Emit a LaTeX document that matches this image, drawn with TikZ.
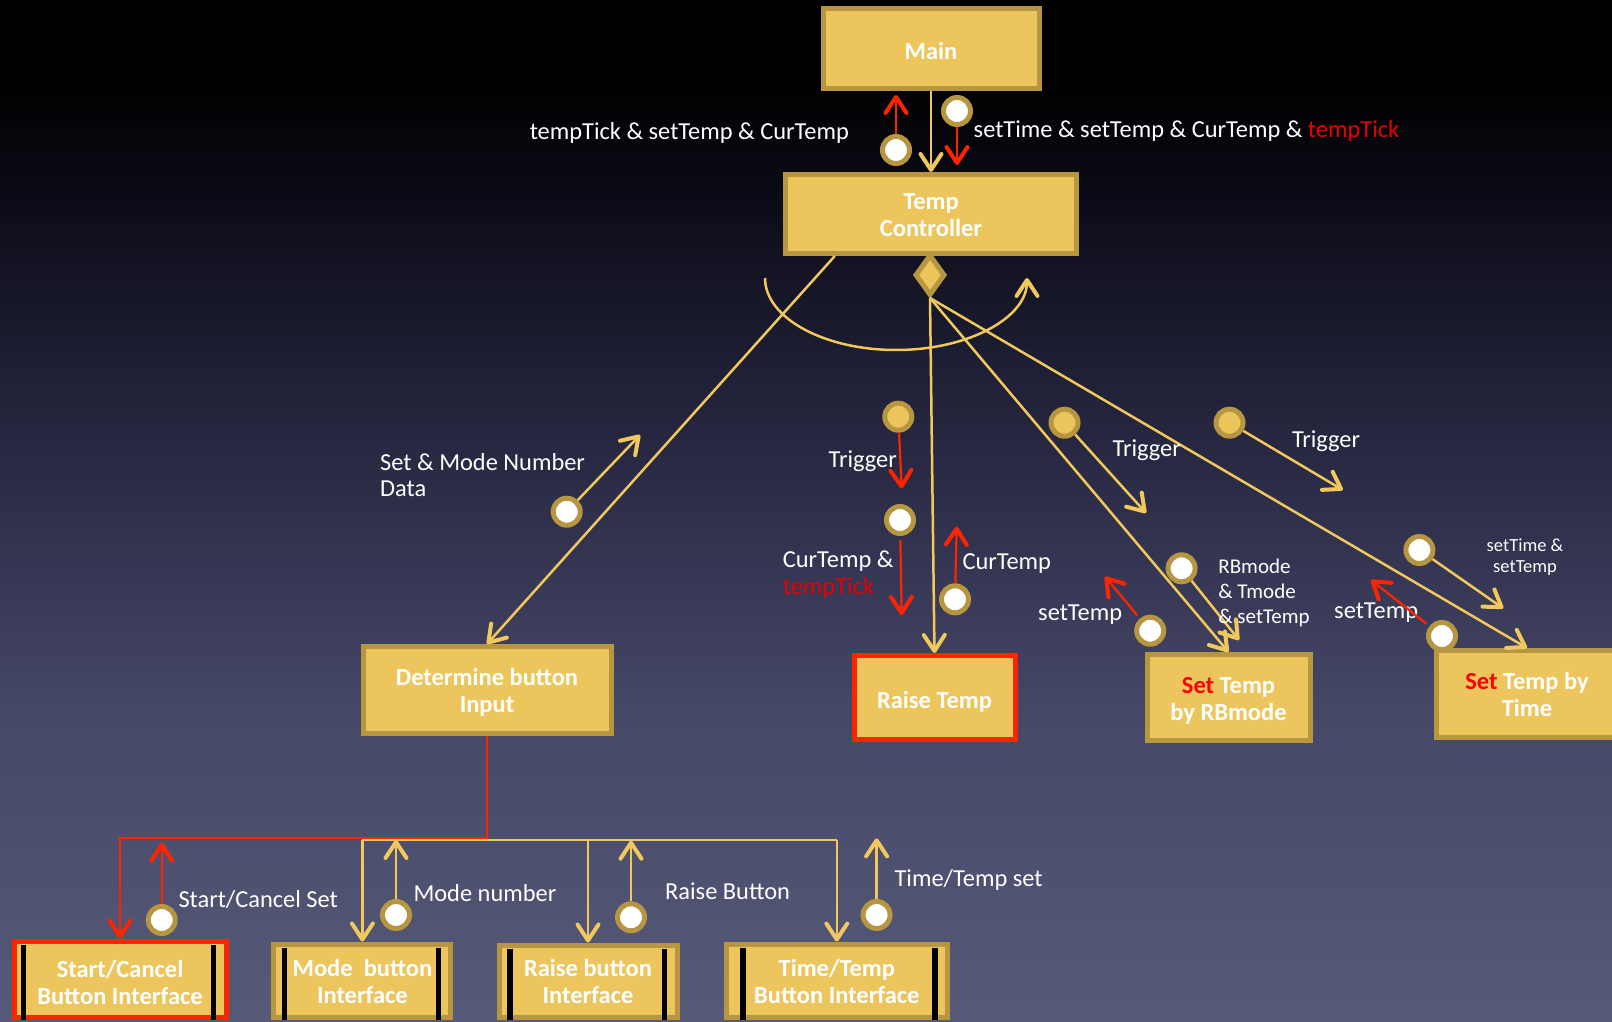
\documentclass[tikz,border=0pt]{standalone}
\usepackage{fontspec}
\setmainfont{Carlito}
\usetikzlibrary{arrows.meta,shapes.geometric,calc}

\definecolor{boxfill}{RGB}{236,198,92}
\definecolor{boxedge}{RGB}{183,150,66}
\definecolor{flow}{RGB}{240,200,92}
\definecolor{alert}{RGB}{255,36,0}
\definecolor{alerttext}{RGB}{232,0,0}
\definecolor{setred}{RGB}{255,0,0}
\definecolor{bgbot}{RGB}{86,89,120}
\definecolor{bglow}{RGB}{70,72,104}
\definecolor{bgmid}{RGB}{35,35,60}
\definecolor{bghigh}{RGB}{12,12,25}

\pgfdeclareverticalshading{backdrop}{100bp}{color(0bp)=(bgbot); color(25bp)=(bgbot); color(40bp)=(bglow); color(55bp)=(bgmid); color(65bp)=(bghigh); color(71bp)=(black); color(100bp)=(black)}

\tikzset{
  box/.style={rectangle, draw=boxedge, line width=5pt, fill=boxfill, text=white,
    font=\bfseries\fontsize{24.5}{27}\selectfont, align=center, inner sep=0pt},
  hotbox/.style={box, draw=alert},
  oneline/.style={text height=26pt, text depth=5pt},
  twoline/.style={text height=50pt, text depth=5pt},
  diam/.style={diamond, draw=boxedge, line width=5pt, fill=boxfill, inner sep=0pt,
    minimum width=30pt, minimum height=41pt},
  wdot/.style={circle, draw=boxedge, line width=5pt, fill=white, minimum size=27pt, inner sep=0pt},
  gdot/.style={wdot, fill=boxfill},
  lbl/.style={text=white, font=\fontsize{24.4}{26.6}\selectfont, inner sep=0pt, align=left},
  head/.style={-{Straight Barb[length=16pt,width=21pt,line width=4pt,round]}},
  yline/.style={draw=flow, line width=2.5pt},
  yarr/.style={yline, head},
  rarr/.style={draw=alert, line width=2.2pt, head},
  bar/.style={draw=black, line width=5.5pt},
}

\begin{document}
\begin{tikzpicture}[x=1pt,y=-1pt]
\useasboundingbox (0,0) rectangle (1612,1022);
\clip (0,0) rectangle (1612,1022);
\shade[shading=backdrop] (0,0) rectangle (1612,1022);

% process boxes
\node[box, oneline, minimum width=216pt, minimum height=80pt] (main) at (931,49) {Main};
\node[box, twoline, minimum width=291pt, minimum height=79pt] (tc) at (931,214) {Temp\\Controller};
\node[diam] (dia) at (930,275) {};
\node[box, twoline, minimum width=248pt, minimum height=87pt] (dbi) at (487,690) {Determine button\\Input};
\node[hotbox, oneline, minimum width=161pt, minimum height=84pt] (rt) at (934.5,697.5) {Raise Temp};
\node[box, twoline, minimum width=163pt, minimum height=86pt] (rb) at (1228.5,697.5) {\textcolor{setred}{Set} Temp\\by RBmode};
\node[box, twoline, minimum width=181pt, minimum height=87pt] (tm) at (1527,694) {\textcolor{setred}{Set} Temp by\\Time};

% button interfaces
\node[hotbox, twoline, text height=56pt, minimum width=212pt, minimum height=76pt] (sc) at (120,979) {Start/Cancel\\Button Interface};
\node[box, twoline, minimum width=177pt, minimum height=73pt] (mb) at (362.4,980.5) {Mode\ \ button\\Interface};
\node[box, twoline, minimum width=178pt, minimum height=72pt] (rbi) at (588,981) {Raise button\\Interface};
\node[box, twoline, minimum width=221pt, minimum height=73pt] (tt) at (836.8,980.5) {Time/Temp\\Button Interface};
\foreach \n/\l in {sc/12, mb/13, rbi/13.6, tt/19} {
  \draw[bar] ([xshift=\l pt, yshift=-6pt]\n.north west) -- ([xshift=\l pt]\n.south west);
  \draw[bar] ([xshift=-15pt, yshift=-6pt]\n.north east) -- ([xshift=-15pt]\n.south east);
}

% call structure
\coordinate (tcl) at ($(tc.south west)!0.175!(tc.south east)$);
\draw[yarr] (main.south) -- (tc.north);
\draw[yarr] (tcl) -- (dbi.north);
\draw[yarr] (dia.south) -- (rt.north);
\draw[yarr] (dia.south) -- (rb.north);
\draw[yarr] (dia.south) -- (tm.north);

% loop around the selection
\coordinate (arcL) at (765,278);
\coordinate (arcB) at (896,350);
\coordinate (arcR) at (1027,278);
\draw[yarr] (arcL) .. controls (765,317.8) and (823.7,350) .. (arcB)
  .. controls (968.3,350) and (1027,317.8) .. (arcR);

% fan-out to the button interfaces
\coordinate (rbus) at (0,838);
\coordinate (ybus) at (0,840);
\draw[rarr] (dbi.south) -- (dbi.south |- rbus) -| (sc.north);
\draw[yline] (mb.north |- ybus) -- (tt.north |- ybus);
\draw[yarr] (mb.north |- ybus) -- (mb.north);
\draw[yarr] (rbi.north |- ybus) -- (rbi.north);
\draw[yarr] (tt.north |- ybus) -- (tt.north);

% Main <-> Temp Controller data
\node[wdot] (d1) at (896,150) {};
\coordinate (d1t) at (896,95);
\draw[rarr] (d1) -- (d1t);
\node[wdot] (d2) at (957,111) {};
\coordinate (d2t) at (957,165);
\draw[rarr] (d2) -- (d2t);
\node[lbl, anchor=east] (l1) at (849,133) {tempTick \& setTemp \& CurTemp};
\node[lbl, anchor=west] (l2) at (973.5,130.5) {setTime \& setTemp \& CurTemp \& \textcolor{alerttext}{tempTick}};

% Determine button Input data
\node[wdot] (d3) at (566.7,511.7) {};
\coordinate (d3t) at (640,435);
\draw[yarr] (d3) -- (d3t);
\node[lbl, anchor=west] (l3) at (380,475) {Set \& Mode Number\\Data};

% Raise Temp data
\node[gdot] (g1) at (898.3,416.7) {};
\coordinate (g1t) at (901.7,488.3);
\draw[rarr] (g1) -- (g1t);
\node[lbl, anchor=east] (l4) at (897,461) {Trigger};
\node[wdot] (d4) at (900,520) {};
\coordinate (d4t) at (901.7,615);
\draw[rarr, shorten <=4pt] (d4) -- (d4t);
\node[lbl, anchor=west] (l5) at (782.7,574.5) {CurTemp \&\\\textcolor{alerttext}{tempTick}};
\node[wdot] (d5) at (955,599.3) {};
\coordinate (d5t) at (956.7,526.7);
\draw[rarr] (d5) -- (d5t);
\node[lbl, anchor=west] (l6) at (962.3,563.5) {CurTemp};

% Set Temp by RBmode data
\node[gdot] (g2) at (1064.5,422.7) {};
\coordinate (g2t) at (1146,513);
\draw[yarr] (g2) -- (g2t);
\node[lbl, anchor=west] (l7) at (1112.5,450) {Trigger};
\node[wdot] (d6) at (1181.6,568.3) {};
\coordinate (d6t) at (1239,640);
\draw[yarr] (d6) -- (d6t);
\node[lbl, anchor=west, font=\fontsize{21}{25}\selectfont] (l8) at (1218.2,593) {RBmode\\\& Tmode\\\& setTemp};
\node[wdot] (d7) at (1150.2,630.7) {};
\coordinate (d7t) at (1105,576.7);
\draw[rarr, shorten <=4pt] (d7) -- (d7t);
\node[lbl, anchor=west] (l9) at (1038,614.5) {setTemp};

% Set Temp by Time data
\node[gdot] (g3) at (1229.5,422.7) {};
\coordinate (g3t) at (1342.8,490);
\draw[yarr] (g3) -- (g3t);
\node[lbl, anchor=west] (l10) at (1291.8,441.5) {Trigger};
\node[wdot] (d8) at (1419.4,550) {};
\coordinate (d8t) at (1503.2,608.3);
\draw[yarr] (d8) -- (d8t);
\node[lbl, align=center, font=\fontsize{18.5}{21.7}\selectfont] (l11) at (1525,557) {setTime \&\\setTemp};
\node[lbl, anchor=west] (l12) at (1334,613) {setTemp};
\node[wdot] (d9) at (1442,636) {};
\coordinate (d9t) at (1371,580);
\draw[rarr, shorten <=4pt] (d9) -- (d9t);

% button interface data
\node[wdot] (d10) at (161.7,920) {};
\coordinate (d10t) at (161.7,842.7);
\draw[rarr] (d10) -- (d10t);
\node[lbl, anchor=west] (l13) at (178.3,900) {Start/Cancel Set};
\node[wdot] (d11) at (396,915) {};
\coordinate (d11t) at (396,840);
\draw[yarr] (d11) -- (d11t);
\node[lbl, anchor=west] (l14) at (413.3,892.7) {Mode number};
\node[wdot] (d12) at (631,917.3) {};
\coordinate (d12t) at (631,840.7);
\draw[yarr] (d12) -- (d12t);
\node[lbl, anchor=west] (l15) at (665,891) {Raise Button};
\node[wdot] (d13) at (876.6,915) {};
\coordinate (d13t) at (876.6,838.3);
\draw[yarr] (d13) -- (d13t);
\node[lbl, anchor=west] (l16) at (894.4,880.3) {Time/Temp set};
\end{tikzpicture}
\end{document}
